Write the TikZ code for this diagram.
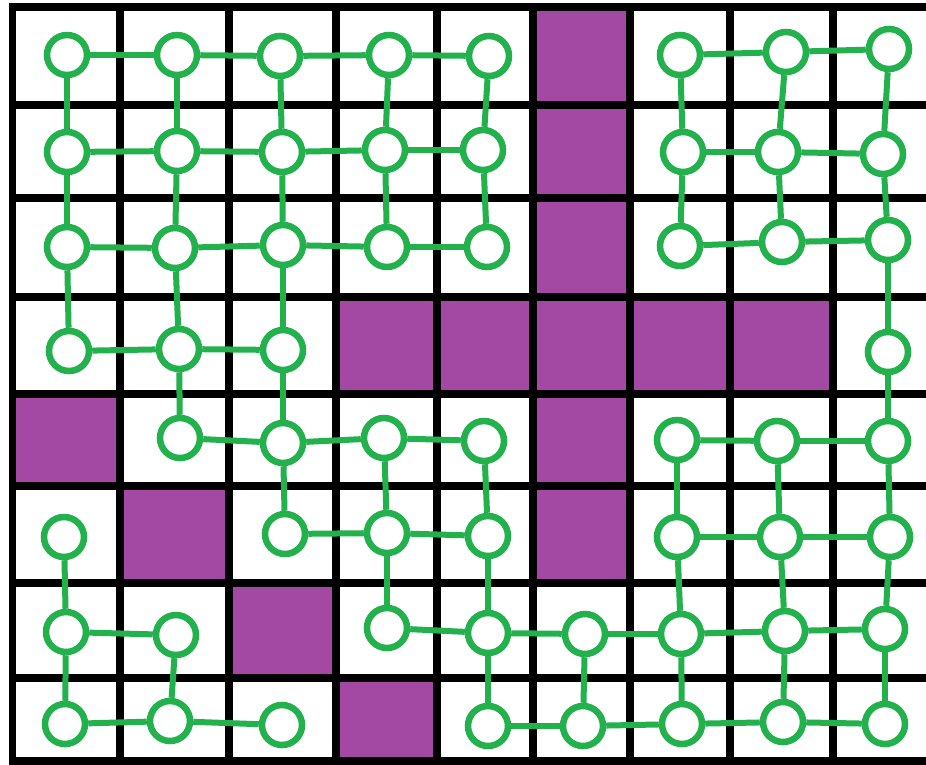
\documentclass[tikz,border=0pt]{standalone}
\definecolor{pgreen}{HTML}{22B14C}
\definecolor{ppurple}{HTML}{A349A4}
\begin{document}
\begin{tikzpicture}[x=1pt,y=-1pt,
  vtx/.style={circle,draw=pgreen,line width=6.5pt,fill=white,minimum size=40pt,inner sep=0pt},
  link/.style={draw=pgreen,line width=6pt},
  gridline/.style={draw=black,line width=7.5pt},
  block/.style={fill=ppurple}]
\useasboundingbox (0,0) rectangle (926,764);
\fill[white] (0,0) rectangle (926,764);
% blocked cells
\fill[block] (533,7) rectangle (630,583);
\fill[block] (336,297) rectangle (833,394);
\fill[block] (12.5,394) rectangle (120,486);
\fill[block] (120,486) rectangle (229,583);
\fill[block] (229,583) rectangle (336,678);
\fill[block] (336,678) rectangle (437,761);
% grid
\foreach \x in {12.5,120,229,336,437,533,630,730,833}
  \draw[gridline] (\x,4) -- (\x,764);
\foreach \y in {7,105,198,297,394,486,583,678,761}
  \draw[gridline] (9,\y) -- (926,\y);
% vertices
\foreach \n/\x/\y in {
  00/67/55, 01/177/55, 02/280/56, 03/389/55, 04/489/56, 06/680/55, 07/786/52, 08/889/49,
  10/67/152, 11/177/151, 12/282/152, 13/385/150, 14/483/150, 16/683/152, 17/778/152, 18/883/154,
  20/67/247, 21/175/248, 22/283/245, 23/387/247, 24/487/247, 26/680/246, 27/782/242, 28/888/240,
  30/69/351, 31/179/349, 32/283/350, 38/888/352,
  41/180/438, 42/283/443, 43/384/438, 44/484/441, 46/677/440, 47/777/441, 48/888/441,
  50/64/537, 52/285/534, 53/387/533, 54/488/536, 56/677/537, 57/780/537, 58/890/537,
  60/66/632, 61/176/635, 63/387/628, 64/488/633, 65/585/634, 66/681/634, 67/785/631, 68/885/629,
  70/65/724, 71/170/721, 72/282/725, 74/488/726, 75/583/726, 76/682/724, 77/783/722, 78/885/724}
  \node[vtx] (n\n) at (\x,\y) {};
% edges
\foreach \a/\b in {
  00/01, 01/02, 02/03, 03/04, 06/07, 07/08,
  10/11, 11/12, 12/13, 13/14, 16/17, 17/18,
  20/21, 21/22, 22/23, 23/24, 26/27, 27/28,
  30/31, 31/32,
  41/42, 42/43, 43/44, 46/47, 47/48,
  52/53, 53/54, 56/57, 57/58,
  60/61, 63/64, 64/65, 65/66, 66/67, 67/68,
  70/71, 71/72, 74/75, 75/76, 76/77, 77/78,
  00/10, 01/11, 02/12, 03/13, 04/14, 06/16, 07/17, 08/18,
  10/20, 11/21, 12/22, 13/23, 14/24, 16/26, 17/27, 18/28,
  20/30, 21/31, 22/32, 28/38,
  31/41, 32/42, 38/48,
  42/52, 43/53, 44/54, 46/56, 47/57, 48/58,
  50/60, 53/63, 54/64, 56/66, 57/67, 58/68,
  60/70, 61/71, 64/74, 65/75, 66/76, 67/77, 68/78}
  \draw[link] (n\a) -- (n\b);
\end{tikzpicture}
\end{document}
